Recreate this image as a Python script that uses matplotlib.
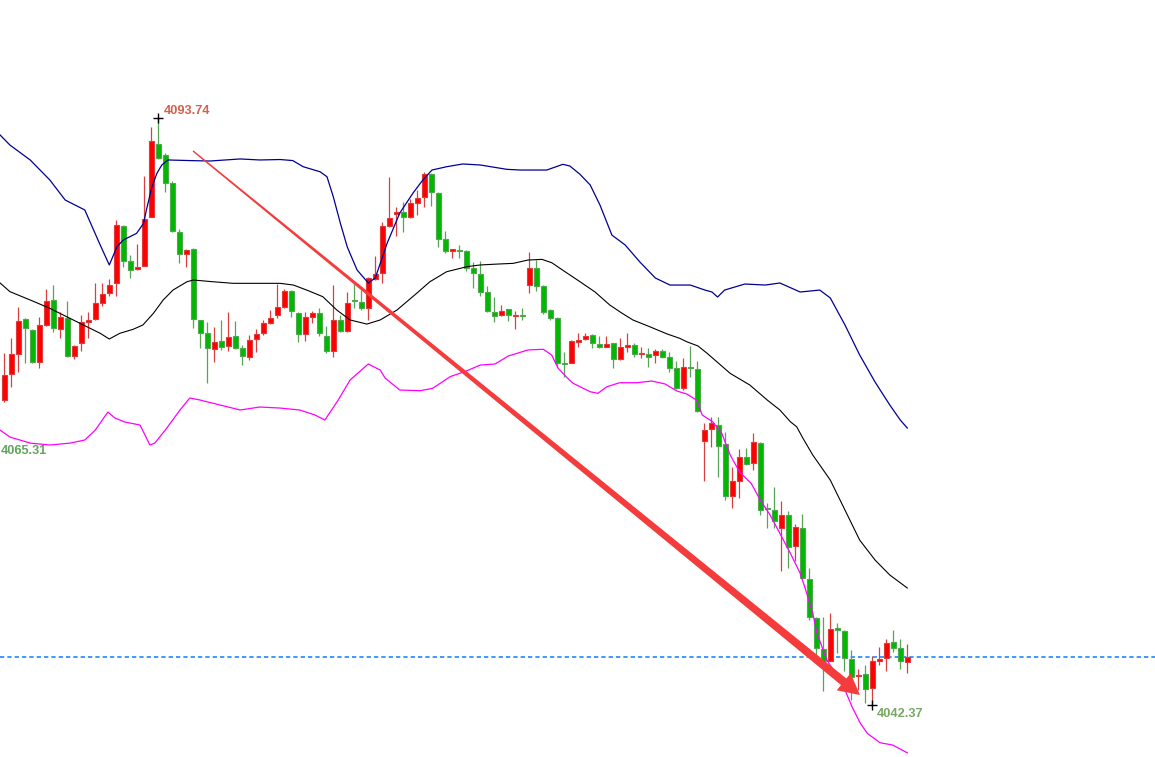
import numpy as np
import matplotlib
matplotlib.use('Agg')
import matplotlib.pyplot as plt
from matplotlib.patches import Polygon
from matplotlib.transforms import IdentityTransform

# candle data, red = up, green = down
opens = [4069.05, 4071.33, 4073.06, 4076.13, 4075.19, 4072.36, 4075.63, 4077.82, 4075.25, 4076.21,
         4072.94, 4074.02, 4075.92, 4076.13, 4077.58, 4078.41, 4079.28, 4084.30, 4081.26, 4080.51,
         4080.82, 4085.07, 4091.49, 4090.53, 4088.05, 4083.75, 4081.82, 4082.29, 4076.07, 4074.90,
         4073.52, 4074.23, 4073.81, 4074.66, 4073.59, 4072.85, 4074.37, 4074.90, 4075.83, 4076.48,
         4077.23, 4078.61, 4076.65, 4074.81, 4076.35, 4076.68, 4074.66, 4073.37, 4076.07, 4075.14,
         4077.77, 4077.67, 4077.09, 4079.66, 4080.16, 4084.33, 4085.33, 4085.56, 4085.12, 4086.35,
         4086.82, 4088.86, 4087.17, 4083.14, 4082.14, 4082.13, 4082.11, 4080.60, 4080.10, 4078.49,
         4076.74, 4076.50, 4077.00, 4076.46, 4076.46, 4079.13, 4080.60, 4079.04, 4076.94, 4076.21,
         4072.32, 4072.34, 4074.16, 4074.37, 4074.75, 4073.96, 4073.72, 4074.02, 4072.62, 4073.72,
         4073.87, 4073.06, 4073.08, 4072.97, 4073.35, 4072.85, 4071.83, 4070.08, 4071.95, 4071.74,
         4065.49, 4066.49, 4066.86, 4065.20, 4060.67, 4061.98, 4064.03, 4063.51, 4065.26, 4059.55,
         4059.41, 4057.86, 4058.97, 4056.28, 4057.81, 4053.37, 4049.92, 4047.20, 4046.21, 4049.05,
         4048.81, 4046.33, 4044.87, 4045.02, 4043.79, 4046.21, 4046.42, 4047.82, 4047.29, 4046.12]
highs = [4073.17, 4074.49, 4077.23, 4076.24, 4075.28, 4076.35, 4078.78, 4079.13, 4076.79, 4077.73,
         4073.87, 4076.50, 4076.77, 4079.33, 4079.33, 4079.63, 4084.83, 4084.39, 4081.76, 4082.70,
         4088.69, 4093.01, 4093.74, 4090.68, 4088.25, 4084.04, 4082.29, 4082.40, 4076.10, 4075.92,
         4075.43, 4076.07, 4076.79, 4076.00, 4073.87, 4074.75, 4075.25, 4076.07, 4076.94, 4079.18,
         4078.78, 4078.69, 4076.77, 4076.74, 4076.88, 4077.14, 4075.54, 4079.13, 4076.50, 4078.55,
         4079.22, 4078.69, 4079.83, 4081.67, 4084.68, 4088.57, 4085.99, 4086.38, 4086.64, 4087.46,
         4089.06, 4088.92, 4087.26, 4083.89, 4082.29, 4082.64, 4082.20, 4081.17, 4081.24, 4079.07,
         4078.05, 4077.35, 4077.06, 4076.88, 4077.09, 4082.00, 4081.32, 4079.13, 4077.00, 4076.30,
         4073.23, 4074.31, 4074.90, 4074.95, 4074.84, 4074.66, 4074.66, 4074.08, 4074.46, 4074.90,
         4074.02, 4073.72, 4073.59, 4073.52, 4073.52, 4073.29, 4072.47, 4072.71, 4073.79, 4072.50,
         4067.07, 4067.59, 4067.59, 4066.27, 4063.21, 4064.73, 4064.82, 4066.14, 4065.35, 4060.00,
         4061.40, 4060.20, 4059.33, 4058.19, 4059.04, 4054.30, 4050.06, 4050.06, 4050.41, 4049.54,
         4048.90, 4047.14, 4045.45, 4045.83, 4046.62, 4047.43, 4048.08, 4048.90, 4048.08, 4047.67]
lows = [4068.88, 4070.19, 4071.53, 4072.30, 4072.32, 4071.88, 4075.54, 4075.04, 4074.51, 4072.85,
        4072.62, 4073.37, 4074.46, 4076.07, 4077.29, 4078.19, 4078.19, 4080.74, 4079.72, 4080.45,
        4080.80, 4085.05, 4090.15, 4087.31, 4083.80, 4081.03, 4080.74, 4075.34, 4073.59, 4070.57,
        4072.36, 4073.44, 4073.35, 4073.52, 4072.12, 4072.56, 4073.29, 4074.75, 4075.71, 4076.24,
        4077.14, 4076.35, 4074.16, 4074.25, 4075.78, 4074.66, 4073.15, 4072.85, 4075.04, 4075.04,
        4077.09, 4076.94, 4076.07, 4079.57, 4079.33, 4084.26, 4083.43, 4083.80, 4085.03, 4085.27,
        4085.99, 4086.08, 4082.44, 4081.96, 4081.47, 4081.52, 4080.39, 4078.84, 4078.17, 4076.79,
        4075.92, 4076.42, 4076.00, 4075.25, 4076.07, 4078.46, 4078.63, 4076.59, 4076.07, 4071.92,
        4071.10, 4072.32, 4073.72, 4074.31, 4073.59, 4073.59, 4073.67, 4071.83, 4072.56, 4073.29,
        4072.85, 4072.71, 4071.97, 4072.32, 4072.71, 4071.53, 4070.02, 4069.93, 4071.10, 4068.03,
        4061.98, 4064.96, 4062.33, 4060.29, 4059.56, 4060.49, 4063.36, 4062.92, 4058.97, 4057.86,
        4057.86, 4054.09, 4054.36, 4054.97, 4053.38, 4049.77, 4046.62, 4043.59, 4046.14, 4046.91,
        4045.33, 4042.76, 4043.64, 4042.47, 4042.37, 4045.83, 4045.33, 4046.99, 4045.48, 4045.16]
closes = [4071.24, 4073.09, 4075.98, 4075.34, 4072.41, 4075.63, 4077.73, 4075.34, 4076.35, 4072.94,
          4073.79, 4075.92, 4076.07, 4077.53, 4078.34, 4079.13, 4084.39, 4081.26, 4080.45, 4080.68,
          4084.89, 4091.75, 4090.24, 4088.05, 4083.87, 4081.85, 4082.20, 4076.13, 4074.90, 4073.59,
          4074.11, 4073.67, 4074.55, 4073.65, 4072.91, 4074.31, 4074.81, 4075.78, 4076.21, 4077.18,
          4078.61, 4076.85, 4074.82, 4076.30, 4076.68, 4074.90, 4073.35, 4076.07, 4075.14, 4077.53,
          4077.73, 4077.09, 4079.72, 4080.07, 4084.30, 4084.98, 4085.50, 4085.12, 4086.29, 4086.73,
          4088.86, 4087.31, 4083.14, 4082.11, 4082.26, 4082.10, 4080.60, 4080.16, 4078.55, 4076.85,
          4076.42, 4076.88, 4076.50, 4076.49, 4076.43, 4080.60, 4079.04, 4076.79, 4076.27, 4072.32,
          4072.18, 4074.23, 4074.31, 4074.66, 4074.02, 4073.72, 4073.96, 4072.62, 4073.67, 4073.87,
          4073.06, 4073.20, 4072.85, 4073.35, 4072.85, 4071.83, 4070.08, 4071.92, 4071.89, 4068.09,
          4066.42, 4067.07, 4065.05, 4060.67, 4061.96, 4064.03, 4063.45, 4065.35, 4059.41, 4059.51,
          4058.45, 4058.97, 4056.20, 4057.95, 4053.43, 4050.06, 4047.29, 4046.18, 4048.96, 4048.90,
          4046.42, 4044.80, 4044.91, 4043.73, 4046.18, 4046.33, 4047.73, 4047.35, 4046.18, 4046.50]

# bollinger bands, sampled at candle positions
upper_idx = [-0.6, 0.8, 3.7, 6.5, 8.7, 11.5, 13.7, 15.0, 16.1, 17.0, 18.9, 19.9, 20.3, 21.1, 21.8,
             22.5, 23.4, 27.0, 29.4, 33.7, 36.5, 39.4, 41.2, 42.7, 45.1, 46.1, 47.0, 48.0, 49.0,
             50.4, 52.0, 53.0, 54.7, 56.5, 58.4, 59.8, 61.1, 63.2, 65.5, 68.0, 71.8, 73.7, 77.5,
             79.8, 80.8, 82.2, 83.7, 85.1, 86.8, 88.7, 90.8, 93.0, 95.1, 98.0, 100.1, 101.1, 101.9,
             102.9, 105.8, 108.7, 110.8, 113.7, 116.5, 118.0, 120.1, 122.2, 124.4, 126.5, 128.0, 129.0]
upper_val = [4092.28, 4091.40, 4090.09, 4088.34, 4086.58, 4085.71, 4082.64, 4080.89, 4082.49, 4083.08,
             4083.66, 4084.54, 4085.71, 4087.75, 4088.92, 4089.65, 4090.09, 4090.03, 4090.00, 4090.18,
             4090.09, 4090.13, 4090.04, 4089.50, 4089.06, 4088.62, 4086.87, 4084.57, 4082.46, 4080.45,
             4079.31, 4079.75, 4082.81, 4085.44, 4087.20, 4088.34, 4089.21, 4089.50, 4089.74, 4089.65,
             4089.27, 4089.21, 4089.21, 4089.71, 4089.56, 4088.86, 4087.90, 4086.14, 4083.51, 4082.64,
             4081.15, 4079.75, 4079.13, 4079.13, 4078.69, 4078.52, 4078.08, 4078.69, 4079.22, 4079.13,
             4079.31, 4078.52, 4078.69, 4078.00, 4075.63, 4073.00, 4070.63, 4068.62, 4067.30, 4066.60]
mid_idx = [-0.6, 0.8, 3.7, 6.5, 10.8, 13.7, 15.0, 16.5, 18.4, 19.8, 21.3, 22.7, 24.1, 26.1, 27.0,
           29.8, 32.7, 35.5, 39.4, 41.3, 43.2, 45.5, 47.5, 49.4, 51.8, 53.7, 56.1, 58.9, 60.8,
           63.2, 66.1, 68.0, 70.5, 72.7, 74.8, 76.8, 78.2, 80.1, 82.2, 84.4, 86.5, 88.2, 89.8,
           92.2, 94.7, 96.5, 97.5, 99.1, 100.4, 103.7, 106.5, 109.0, 110.8, 112.3, 113.2, 114.1,
           115.5, 116.5, 118.0, 120.1, 122.2, 124.4, 126.5, 129.0]
mid_val = [4079.31, 4078.55, 4077.82, 4077.09, 4075.78, 4074.90, 4074.40, 4074.90, 4075.25, 4075.63,
           4076.65, 4077.82, 4078.69, 4079.42, 4079.57, 4079.42, 4079.28, 4079.28, 4079.28, 4079.13,
           4078.69, 4078.11, 4076.94, 4076.07, 4075.71, 4076.07, 4076.94, 4078.40, 4079.42, 4080.30,
           4080.74, 4080.89, 4080.97, 4081.03, 4081.32, 4081.38, 4081.09, 4080.30, 4079.44, 4078.52,
           4077.38, 4076.68, 4076.07, 4075.48, 4074.84, 4074.46, 4074.16, 4073.79, 4073.15, 4071.39,
           4070.37, 4069.05, 4068.18, 4067.15, 4066.71, 4065.70, 4064.23, 4063.36, 4062.04, 4059.41,
           4056.78, 4055.03, 4053.72, 4052.58]
lower_idx = [-0.6, 0.8, 3.7, 6.5, 9.4, 11.5, 13.0, 14.8, 15.8, 17.2, 19.4, 20.8, 21.5, 23.0, 25.1,
             26.5, 28.0, 30.8, 33.7, 36.5, 39.4, 42.2, 44.4, 45.8, 47.7, 49.4, 52.0, 53.7, 54.4,
             56.5, 59.4, 61.2, 63.7, 66.1, 68.0, 70.1, 72.0, 74.8, 77.0, 78.2, 79.1, 80.3, 81.2,
             83.7, 84.8, 86.1, 87.9, 90.4, 92.5, 94.4, 96.1, 97.5, 98.9, 99.7, 101.2, 102.5, 103.7,
             105.1, 106.7, 108.0, 109.4, 110.8, 112.3, 113.7, 114.4, 115.5, 116.1, 117.5, 119.7,
             121.1, 122.3, 123.3, 125.1, 126.9, 129.0]
lower_val = [4066.42, 4065.81, 4065.28, 4065.11, 4065.28, 4065.55, 4066.42, 4068.00, 4067.48, 4067.13,
             4066.86, 4065.11, 4065.28, 4066.42, 4068.18, 4069.23, 4069.05, 4068.62, 4068.18, 4068.44,
             4068.35, 4068.18, 4067.74, 4067.30, 4069.05, 4070.81, 4072.21, 4071.68, 4070.98, 4069.93,
             4069.87, 4070.08, 4071.10, 4071.62, 4072.12, 4072.21, 4072.91, 4073.44, 4073.50, 4073.00,
             4071.86, 4071.07, 4070.54, 4069.78, 4069.64, 4070.22, 4070.57, 4070.57, 4070.72, 4070.46,
             4069.84, 4069.58, 4069.05, 4067.74, 4067.15, 4066.14, 4064.23, 4062.70, 4061.75, 4060.29,
             4058.98, 4057.37, 4055.62, 4053.87, 4052.58, 4050.38, 4048.63, 4046.27, 4044.23, 4042.18,
             4040.72, 4039.84, 4039.02, 4038.82, 4038.14]

last_price = 4046.53
left_low_label = 4065.31
arrow_from = (26.96, 4090.88)
arrow_to = (122.24, 4043.20)

opens = np.array(opens); closes = np.array(closes)
highs = np.array(highs); lows = np.array(lows)
idx = np.arange(len(opens))
up = closes >= opens

fig = plt.figure(figsize=(11.55, 7.57), dpi=100, facecolor='white')
ax = fig.add_axes([0, 0, 1, 1])
ax.set_xlim(-0.614, 164.39)
ax.set_ylim(4037.77, 4104.11)
ax.axis('off')

red_body, red_edge, red_wick = '#ff0000', '#e03a3a', '#d84040'
grn_body, grn_edge, grn_wick = '#00b800', '#4ea84e', '#55a555'

# wicks
ax.vlines(idx[up], lows[up], highs[up], color=red_wick, lw=0.9, zorder=2)
ax.vlines(idx[~up], lows[~up], highs[~up], color=grn_wick, lw=0.9, zorder=2)

# bodies
bottoms = np.minimum(opens, closes)
heights = np.maximum(np.abs(closes - opens), 0.06)
ax.bar(idx[up], heights[up], bottom=bottoms[up], width=0.68, color=red_body,
       edgecolor=red_edge, lw=0.8, zorder=3)
ax.bar(idx[~up], heights[~up], bottom=bottoms[~up], width=0.68, color=grn_body,
       edgecolor=grn_edge, lw=0.8, zorder=3)

# bands
ax.plot(upper_idx, upper_val, color='#000096', lw=0.9, zorder=4)
ax.plot(mid_idx, mid_val, color='black', lw=0.8, zorder=4)
ax.plot(lower_idx, lower_val, color='#ff00ff', lw=0.9, zorder=4)

# last price line
ax.axhline(last_price, color='#0a7cff', lw=1.1, dashes=(2.8, 2.0), zorder=1)

# high / low marks
hi_i = int(np.argmax(highs)); lo_i = int(np.argmin(lows))
ax.plot(hi_i, highs[hi_i], marker='+', color='black', ms=7, mew=1, zorder=5)
ax.plot(lo_i, lows[lo_i], marker='+', color='black', ms=7, mew=1, zorder=5)
lab_font = dict(fontsize=9.2, fontweight='bold', family='Liberation Sans')
ax.annotate('%.2f' % highs[hi_i], (hi_i, highs[hi_i]), xytext=(5, 1), textcoords='offset pixels',
            color='#d4604a', ha='left', va='bottom', **lab_font)
ax.annotate('%.2f' % lows[lo_i], (lo_i, lows[lo_i]), xytext=(4, -3), textcoords='offset pixels',
            color='#76a862', ha='left', va='top', **lab_font)
ax.annotate('%.2f' % left_low_label, (-0.45, left_low_label), xytext=(0, -8),
            textcoords='offset pixels', color='#5fa55a', ha='left', va='center', **lab_font)

# tapered red arrow, built in pixel space
p0 = ax.transData.transform(arrow_from)
p1 = ax.transData.transform(arrow_to)
d = p1 - p0
u = d / np.hypot(*d)
n = np.array([-u[1], u[0]])
head_len, head_w, neck_w, tail_w = 21, 11, 4.2, 0.7
base = p1 - head_len * u
pts = [p0 + n * tail_w, base + n * neck_w, base + n * head_w, p1,
       base - n * head_w, base - n * neck_w, p0 - n * tail_w]
ax.add_patch(Polygon(pts, closed=True, facecolor='#f43c3c', edgecolor='none',
                     transform=IdentityTransform(), zorder=6))

fig.savefig('out.png', dpi=100, facecolor='white')
